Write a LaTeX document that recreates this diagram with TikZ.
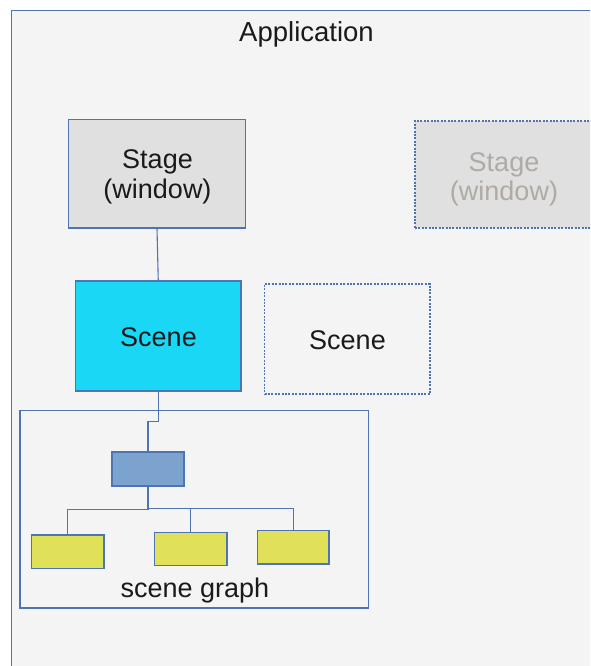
\documentclass[tikz,border=0pt]{standalone}
\usepackage{fontspec}
\setmainfont{Liberation Sans}
\definecolor{frameblue}{HTML}{4F74B2}
\definecolor{appbg}{HTML}{F4F4F4}
\definecolor{stagegray}{HTML}{E0E0E0}
\definecolor{scenecyan}{HTML}{1AD8F5}
\definecolor{rootblue}{HTML}{7BA3CD}
\definecolor{leafyellow}{HTML}{E0E059}
\definecolor{inktext}{HTML}{1A1A1A}
\definecolor{fadedtext}{HTML}{B0AAA5}
\tikzset{
  box/.style={draw=frameblue, line width=1.1pt, rectangle, inner sep=0pt},
  ghost/.style={box, dash pattern=on 2pt off 1.4pt},
  conn/.style={draw=frameblue, line width=1.1pt},
  leaf/.style={box, fill=leafyellow, minimum height=33.5pt},
  label/.style={text=inktext, font=\fontsize{27}{30}\selectfont, inner sep=0pt, anchor=base}
}
\begin{document}
\begin{tikzpicture}[x=1pt, y=-1pt]
  \useasboundingbox (0,0) rectangle (590,666);
  \clip (0,0) rectangle (590,666);
  \fill[white] (0,0) rectangle (590,666);

  % application frame (runs off the right and bottom edges)
  \node[box, fill=appbg, minimum width=600pt, minimum height=700pt, anchor=north west]
    (app) at (10.5,10) {};
  \node[label, font=\fontsize{27.5}{30}\selectfont] (apptitle) at (306.5,41.5) {Application};

  % stages
  \node[box, fill=stagegray, minimum width=177pt, minimum height=108.5pt]
    (stage) at (157,173.75) {};
  \node[label] (stagename) at (157.5,168.5) {Stage};
  \node[label] (stagekind) at (157.5,198.5) {(window)};

  \node[ghost, fill=stagegray, minimum width=178pt, minimum height=107pt]
    (stage2) at (504,174.5) {};
  \node[label, text=fadedtext] (stage2name) at (504,171) {Stage};
  \node[label, text=fadedtext] (stage2kind) at (504,200) {(window)};

  % scenes
  \node[box, fill=scenecyan, minimum width=165.5pt, minimum height=110pt]
    (scene) at (158.25,336) {};
  \node[label] (scenename) at (158.5,346) {Scene};
  \node[ghost, minimum width=165.5pt, minimum height=110pt]
    (scene2) at (347.25,339) {};
  \node[label] (scene2name) at (347.5,349.3) {Scene};

  % scene graph container
  \node[box, minimum width=348.5pt, minimum height=197.5pt]
    (graph) at (194.25,509.25) {};
  \node[label] (graphlabel) at (195,597) {scene graph};

  % scene graph nodes
  \node[box, fill=rootblue, minimum width=72pt, minimum height=34pt]
    (root) at (148,469) {};
  \node[leaf, minimum width=72.5pt] (leafa) at (67.75,551.75) {};
  \node[leaf, minimum width=72.5pt] (leafb) at (190.75,549) {};
  \node[leaf, minimum width=71.5pt] (leafc) at (293.25,547.25) {};

  % connectors
  \draw[conn] (stage.south) -- (scene.north);
  \draw[conn] (scene.south) -- ++(0,30) -| (root.north);
  \draw[conn] (root.south) -- ++(0,23) -| (leafa.north);
  \draw[conn] (root.south) -- ++(0,22) -| (leafb.north);
  \draw[conn] (root.south) -- ++(0,22) -| (leafc.north);
\end{tikzpicture}
\end{document}
